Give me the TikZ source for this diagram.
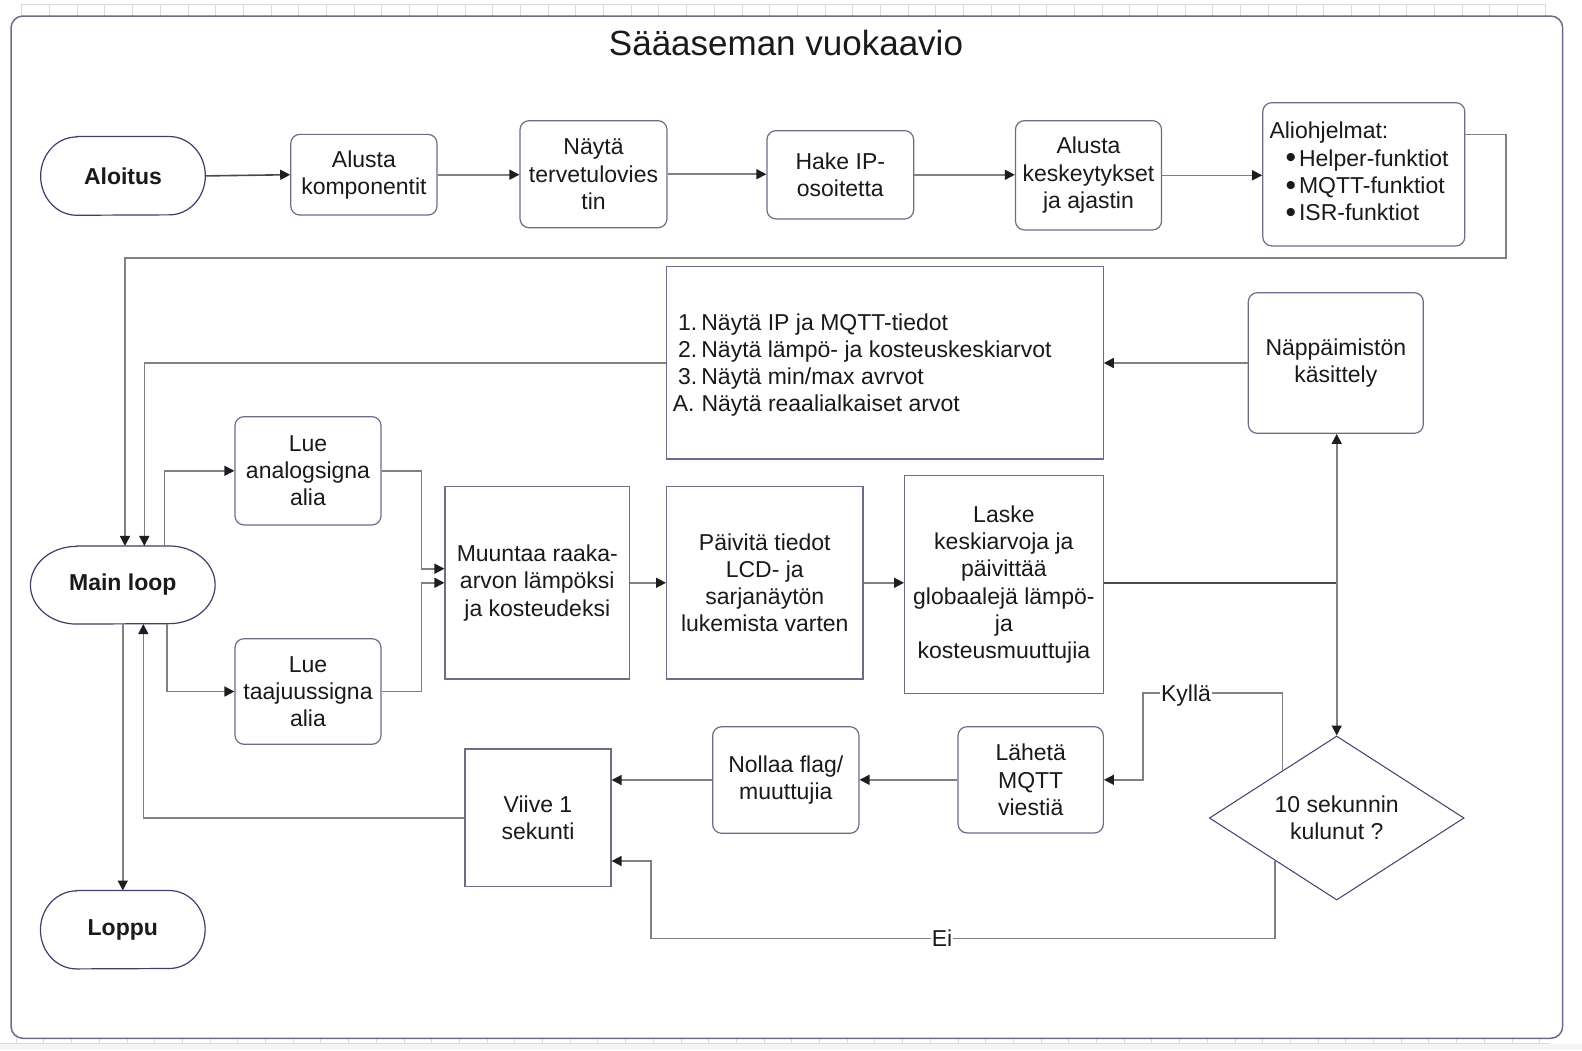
\documentclass[tikz,border=0pt]{standalone}
\usepackage{fontspec}
\setmainfont{Liberation Sans}
\usetikzlibrary{arrows.meta,calc,shapes.geometric}
\definecolor{boxcol}{HTML}{6A6E88}
\definecolor{termcol}{HTML}{3C4068}
\definecolor{linecol}{HTML}{808080}
\definecolor{darkline}{HTML}{4A4A4A}
\definecolor{tipcol}{HTML}{1E1E1E}
\definecolor{txtcol}{HTML}{1A1A1A}
\definecolor{gridcol}{HTML}{DADADA}
\newcommand\drawterm[3]{%
  \draw[termline] ($(#1.north west)+(#2,0)$) -- ($(#1.north east)+(-#2,0)$)
    arc[start angle=90,end angle=-90,x radius=#2pt,y radius=#3pt]
    -- ($(#1.south west)+(#2,0)$)
    arc[start angle=270,end angle=90,x radius=#2pt,y radius=#3pt] -- cycle;}
\newcommand\bigbul{{\fontsize{30}{27}\selectfont\raisebox{-1.5pt}{•}}}
\begin{document}
\begin{tikzpicture}[x=1pt,y=-1pt,
  every node/.style={font=\fontsize{23}{27.3}\selectfont, text=txtcol, inner sep=0pt, align=center},
  rbox/.style={rectangle, draw=boxcol, line width=1.2pt, fill=white, rounded corners=9pt},
  sbox/.style={rectangle, draw=boxcol, line width=1.2pt, fill=white},
  term/.style={rectangle, font=\fontsize{23}{27.3}\selectfont\bfseries},
  termline/.style={draw=termcol, line width=1.2pt},
  dec/.style={diamond, draw=termcol, line width=1pt, fill=white},
  conn/.style={draw=linecol, line width=1.6pt},
  arr/.style={conn, -{Triangle[length=10pt,width=10pt,color=tipcol]}},
  lbl/.style={fill=white, inner sep=1pt},
]
\useasboundingbox (0,0) rectangle (1582,1050);
\fill[white] (0,0) rectangle (1582,1050);
% ruler strips
\fill[black!4] (0,1043.5) rectangle (1582,1050);
\draw[gridcol, line width=0.8pt] (21.7,4) -- (1545,4);
\foreach \i in {0,...,55} \draw[gridcol, line width=0.8pt] ({21.7+27.7*\i},4) -- ({21.7+27.7*\i},16);
\draw[gridcol, line width=0.8pt] (0,1043.5) -- (1550,1043.5);
\foreach \i in {0,...,55} \draw[gridcol, line width=0.8pt] ({16.1+27.7*\i},1038.3) -- ({16.1+27.7*\i},1043.5);
% frame
\draw[draw=boxcol, line width=1.5pt, fill=white, rounded corners=12pt] (11,16) rectangle (1562.7,1038.3);
\node[font=\fontsize{35}{40}\selectfont, anchor=base] (title) at (786,55.5) {Sääaseman vuokaavio};

% top row
\node[term, minimum width=164.3pt, minimum height=78.3pt] (start) at (123,175.9) {Aloitus};
\drawterm{start}{36}{39.15}
\node[rbox, minimum width=146.2pt, minimum height=80.7pt] (init) at (363.9,174.7) {Alusta\\komponentit};
\node[rbox, minimum width=147pt, minimum height=107pt] (welcome) at (593.5,174.2) {Näytä\\tervetulovies\\tin};
\node[rbox, minimum width=146.7pt, minimum height=88.3pt] (ip) at (840.3,174.8) {Hake IP-\\osoitetta};
\node[rbox, minimum width=146.1pt, minimum height=109.3pt] (irq) at (1088.5,175.3) {Alusta\\keskeytykset\\ja ajastin};
\node[rbox, minimum width=202pt, minimum height=143.3pt] (sub) at (1363.8,174.3) {};
\node[anchor=west, align=left] (subtxt) at (1269.3,172.3) {Aliohjelmat:\\\hspace*{16pt}\bigbul\hspace{3pt}Helper-funktiot\\\hspace*{16pt}\bigbul\hspace{3pt}MQTT-funktiot\\\hspace*{16pt}\bigbul\hspace{3pt}ISR-funktiot};

% middle
\node[sbox, minimum width=436.8pt, minimum height=192.3pt] (menu) at (884.8,362.8) {};
\node[anchor=west, align=left, font=\fontsize{23}{27}\selectfont] (menutxt) at (672.6,364.7) {\hspace*{5.4pt}1.\hspace{4pt}Näytä IP ja MQTT-tiedot\\\hspace*{5.4pt}2.\hspace{4pt}Näytä lämpö- ja kosteuskeskiarvot\\\hspace*{5.4pt}3.\hspace{4pt}Näytä min/max avrvot\\A.\hspace{7pt}Näytä reaalialkaiset arvot};
\node[rbox, minimum width=175pt, minimum height=140.6pt] (keys) at (1335.8,363) {Näppäimistön\\käsittely};
\node[rbox, minimum width=146pt, minimum height=108.3pt] (ana) at (308,470.8) {Lue\\analogsigna\\alia};
\node[term, minimum width=184.3pt, minimum height=77.7pt] (main) at (122.8,585) {Main loop};
\drawterm{main}{46}{38.85}
\node[rbox, minimum width=146pt, minimum height=105.6pt] (freq) at (308,691.5) {Lue\\taajuussigna\\alia};
\node[sbox, minimum width=184.6pt, minimum height=192.3pt] (conv) at (537.3,582.8) {Muuntaa raaka-\\arvon lämpöksi\\ja kosteudeksi};
\node[sbox, minimum width=196.4pt, minimum height=192.3pt] (upd) at (764.8,582.8) {Päivitä tiedot\\LCD- ja\\sarjanäytön\\lukemista varten};
\node[sbox, minimum width=198.6pt, minimum height=218pt] (avg) at (1003.9,584.5) {Laske\\keskiarvoja ja\\päivittää\\globaalejä lämpö-\\ja\\kosteusmuuttujia};

% bottom
\node[dec, minimum width=254.7pt, minimum height=164pt, shape aspect=1.55] (chk) at (1336.7,818) {10 sekunnin\\kulunut ?};
\node[rbox, minimum width=145.3pt, minimum height=106.3pt] (send) at (1030.7,779.8) {Lähetä\\MQTT\\viestiä};
\node[rbox, minimum width=146.3pt, minimum height=106.6pt] (reset) at (785.8,780) {Nollaa flag/\\muuttujia};
\node[sbox, minimum width=146pt, minimum height=137.7pt] (delay) at (538,817.8) {Viive 1\\sekunti};
\node[term, minimum width=164.3pt, minimum height=78pt] (stop) at (122.8,929.7) {Loppu};
\drawterm{stop}{36}{39}

% connectors: top row
\draw[arr, draw=darkline] (start.east) -- (init.west);
\draw[arr] (init.east) -- (init.east -| welcome.west);
\draw[arr] (welcome.east) -- (welcome.east -| ip.west);
\draw[arr] (ip.east) -- (ip.east -| irq.west);
\draw[arr] (irq.east) -- (irq.east -| sub.west);
% return to main loop
\coordinate (subout) at ($(sub.north east)+(0,32.3)$);
\coordinate (ret) at (1505.7,257.7);
\coordinate (mainA) at ($(main.north)+(2.2,0)$);
\draw[arr] (subout) -- (subout -| ret) -- (ret) -- (ret -| mainA) -- (mainA);
% menu back to main loop
\coordinate (mainB) at ($(main.north)+(21.5,0)$);
\draw[arr] (menu.west) -| (mainB);
\draw[arr] (keys.west) -- (keys.west -| menu.east);
% main loop to reads
\coordinate (mainD) at ($(main.north)+(41.5,0)$);
\draw[arr] (mainD) |- (ana.west);
\coordinate (mainE) at ($(main.south)+(43.9,0)$);
\draw[arr] (mainE) |- (freq.west);
% reads to convert
\draw[arr] (ana.east) -- ++(39.7,0) |- ($(conv.west)+(0,-14.1)$);
\draw[arr] (freq.east) -- ++(39.7,0) |- (conv.west);
\draw[arr] (conv.east) -- (upd.west);
\draw[arr] (upd.east) -- (upd.east -| avg.west);
% averages to junction
\coordinate (jn) at (chk.north |- upd.east);
\draw[conn, draw=darkline] (upd.east -| avg.east) -- (jn);
\draw[arr] (jn) -- (keys.south -| jn);
\draw[arr] (jn) -- (chk.north);
% yes branch
\coordinate (yes0) at ($(chk.west)!0.576!(chk.north)$);
\coordinate (yes1) at (1142.7,692.7);
\draw[arr] (yes0) |- (yes1) |- (send.east);
\node[lbl, anchor=base] (yeslbl) at (1186,701) {Kyllä};
% no branch
\coordinate (no0) at ($(chk.west)!0.516!(chk.south)$);
\coordinate (no1) at (650.7,938.3);
\draw[arr] (no0) |- (no1) |- ($(delay.east)+(0,43.2)$);
\node[lbl, anchor=base] (nolbl) at (942,946.5) {Ei};
% send, reset, delay
\draw[arr] (send.west) -- (send.west -| reset.east);
\draw[arr] (reset.west) -- (reset.west -| delay.east);
\coordinate (mainC) at ($(main.south)+(20.5,0)$);
\draw[arr] (delay.west) -| (mainC);
\draw[arr] (main.south) -- (stop.north);
\end{tikzpicture}
\end{document}
